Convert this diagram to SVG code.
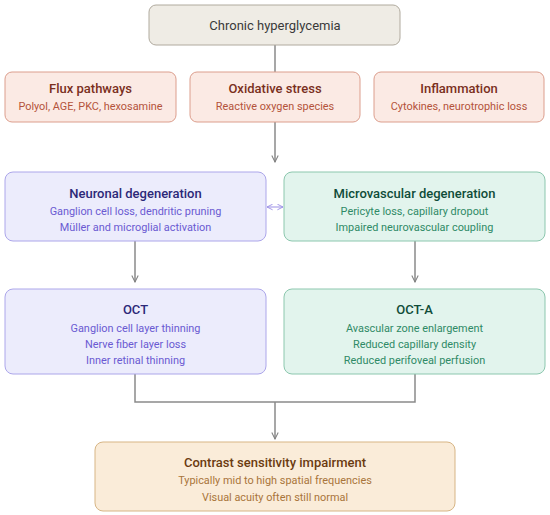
<svg xmlns="http://www.w3.org/2000/svg" width="550" height="515" viewBox="0 0 550 515">
<defs>
<marker id="ah" viewBox="0 0 10 10" refX="9" refY="5" markerWidth="8" markerHeight="8" orient="auto-start-reverse" markerUnits="userSpaceOnUse">
<path d="M1,1 L9,5 L1,9" fill="none" stroke="#808080" stroke-width="1.3"/>
</marker>
<marker id="ahp" viewBox="0 0 10 10" refX="9" refY="5" markerWidth="7" markerHeight="7" orient="auto-start-reverse" markerUnits="userSpaceOnUse">
<path d="M1,1 L9,5 L1,9" fill="none" stroke="#9b8fe6" stroke-width="1.3"/>
</marker>
<style>
text{font-family:Roboto,"Open Sans","DejaVu Sans",sans-serif;text-anchor:middle}
.t{font-size:13px;font-weight:500}
.s{font-size:10.9px}
.conn{fill:none;stroke:#8a8a8a;stroke-width:1.5}
.g rect{fill:#efece5;stroke:#b0aa9e}
.r rect{fill:#fbeae4;stroke:#dc9e8d}
.r .t{fill:#7a2f1d}.r .s{fill:#b4533b}
.p rect{fill:#ececfc;stroke:#aca6ea}
.p .t{fill:#2c2878}.p .s{fill:#6a5ad2}
.m rect{fill:#e2f4ed;stroke:#8cc7ae}
.m .t{fill:#0f4c39}.m .s{fill:#2f8a66}
.o rect{fill:#faecd9;stroke:#d7b585}
.o .t{fill:#6b3b10}.o .s{fill:#a9753b}
</style>
</defs>
<g id="connectors">
<path class="conn" d="M275,45 V162" marker-end="url(#ah)"/>
<path class="conn" d="M135,241 V282" marker-end="url(#ah)"/>
<path class="conn" d="M415,241 V282" marker-end="url(#ah)"/>
<path class="conn" d="M135,374 V402 H415 V374"/>
<path class="conn" d="M275,402 V439" marker-end="url(#ah)"/>
<path d="M267,207 H283" fill="none" stroke="#9b8fe6" stroke-width="1" marker-start="url(#ahp)" marker-end="url(#ahp)"/>
</g>
<g id="hyperglycemia" class="g">
<rect x="149" y="5" width="251" height="40" rx="7"/>
<text x="275" y="30" style="font-size:13px;fill:#3a3a3a">Chronic hyperglycemia</text>
</g>
<g id="flux" class="r">
<rect x="5" y="72" width="171" height="50" rx="7"/>
<text class="t" x="90.5" y="93">Flux pathways</text>
<text class="s" x="90.5" y="110">Polyol, AGE, PKC, hexosamine</text>
</g>
<g id="oxidative" class="r">
<rect x="190" y="72" width="170" height="50" rx="7"/>
<text class="t" x="275" y="93">Oxidative stress</text>
<text class="s" x="275" y="110">Reactive oxygen species</text>
</g>
<g id="inflammation" class="r">
<rect x="374" y="72" width="170" height="50" rx="7"/>
<text class="t" x="459" y="93">Inflammation</text>
<text class="s" x="459" y="110">Cytokines, neurotrophic loss</text>
</g>
<g id="neuronal" class="p">
<rect x="5" y="172" width="261" height="69" rx="8"/>
<text class="t" x="135.5" y="198">Neuronal degeneration</text>
<text class="s" x="135.5" y="215">Ganglion cell loss, dendritic pruning</text>
<text class="s" x="135.5" y="231">Müller and microglial activation</text>
</g>
<g id="microvascular" class="m">
<rect x="284" y="172" width="261" height="69" rx="8"/>
<text class="t" x="414.5" y="198">Microvascular degeneration</text>
<text class="s" x="414.5" y="215">Pericyte loss, capillary dropout</text>
<text class="s" x="414.5" y="231">Impaired neurovascular coupling</text>
</g>
<g id="oct" class="p">
<rect x="5" y="289" width="261" height="85" rx="8"/>
<text class="t" x="135.5" y="314">OCT</text>
<text class="s" x="135.5" y="332">Ganglion cell layer thinning</text>
<text class="s" x="135.5" y="348">Nerve fiber layer loss</text>
<text class="s" x="135.5" y="364">Inner retinal thinning</text>
</g>
<g id="octa" class="m">
<rect x="284" y="289" width="261" height="85" rx="8"/>
<text class="t" x="414.5" y="314">OCT-A</text>
<text class="s" x="414.5" y="332">Avascular zone enlargement</text>
<text class="s" x="414.5" y="348">Reduced capillary density</text>
<text class="s" x="414.5" y="364">Reduced perifoveal perfusion</text>
</g>
<g id="contrast" class="o">
<rect x="95" y="442" width="360" height="69" rx="8"/>
<text class="t" x="275" y="467">Contrast sensitivity impairment</text>
<text class="s" x="275" y="484">Typically mid to high spatial frequencies</text>
<text class="s" x="275" y="501">Visual acuity often still normal</text>
</g>
</svg>
